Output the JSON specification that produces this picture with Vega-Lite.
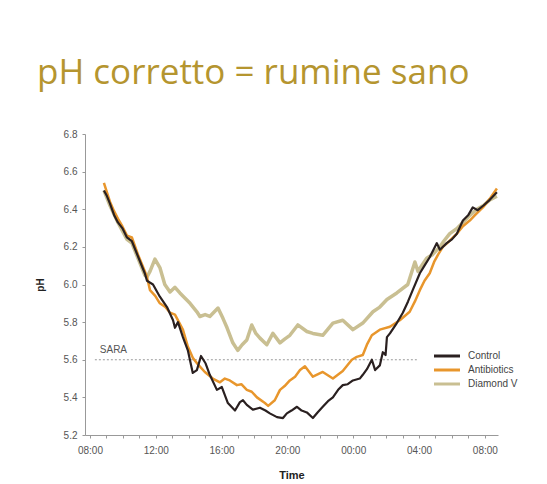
{
  "$schema": "https://vega.github.io/schema/vega-lite/v6.json",
  "autosize": "none",
  "width": 413,
  "height": 301,
  "padding": {"left": 85, "top": 134, "right": 49, "bottom": 49},
  "background": "white",
  "title": {"text": "pH corretto = rumine sano", "anchor": "start", "frame": "group", "dx": -48, "offset": 38, "fontSize": 35, "font": "Open Sans", "fontWeight": "normal", "color": "#B5952F"},
  "config": {"view": {"stroke": null}, "font": "Liberation Sans", "axis": {"labelFlush": false}},
  "data": {"values": [
      {"series": "Control", "time": "2020-01-01T08:51", "pH": 6.50},
      {"series": "Control", "time": "2020-01-01T09:02", "pH": 6.47},
      {"series": "Control", "time": "2020-01-01T09:13", "pH": 6.43},
      {"series": "Control", "time": "2020-01-01T09:28", "pH": 6.37},
      {"series": "Control", "time": "2020-01-01T09:42", "pH": 6.33},
      {"series": "Control", "time": "2020-01-01T09:58", "pH": 6.30},
      {"series": "Control", "time": "2020-01-01T10:15", "pH": 6.25},
      {"series": "Control", "time": "2020-01-01T10:33", "pH": 6.23},
      {"series": "Control", "time": "2020-01-01T10:55", "pH": 6.15},
      {"series": "Control", "time": "2020-01-01T11:20", "pH": 6.06},
      {"series": "Control", "time": "2020-01-01T11:28", "pH": 6.02},
      {"series": "Control", "time": "2020-01-01T11:50", "pH": 6.00},
      {"series": "Control", "time": "2020-01-01T12:15", "pH": 5.935},
      {"series": "Control", "time": "2020-01-01T12:41", "pH": 5.88},
      {"series": "Control", "time": "2020-01-01T13:03", "pH": 5.81},
      {"series": "Control", "time": "2020-01-01T13:10", "pH": 5.77},
      {"series": "Control", "time": "2020-01-01T13:21", "pH": 5.80},
      {"series": "Control", "time": "2020-01-01T13:39", "pH": 5.72},
      {"series": "Control", "time": "2020-01-01T13:57", "pH": 5.65},
      {"series": "Control", "time": "2020-01-01T14:15", "pH": 5.53},
      {"series": "Control", "time": "2020-01-01T14:30", "pH": 5.545},
      {"series": "Control", "time": "2020-01-01T14:45", "pH": 5.62},
      {"series": "Control", "time": "2020-01-01T15:02", "pH": 5.58},
      {"series": "Control", "time": "2020-01-01T15:17", "pH": 5.52},
      {"series": "Control", "time": "2020-01-01T15:43", "pH": 5.44},
      {"series": "Control", "time": "2020-01-01T16:01", "pH": 5.455},
      {"series": "Control", "time": "2020-01-01T16:23", "pH": 5.37},
      {"series": "Control", "time": "2020-01-01T16:49", "pH": 5.33},
      {"series": "Control", "time": "2020-01-01T17:07", "pH": 5.375},
      {"series": "Control", "time": "2020-01-01T17:18", "pH": 5.385},
      {"series": "Control", "time": "2020-01-01T17:32", "pH": 5.36},
      {"series": "Control", "time": "2020-01-01T17:54", "pH": 5.335},
      {"series": "Control", "time": "2020-01-01T18:20", "pH": 5.345},
      {"series": "Control", "time": "2020-01-01T18:40", "pH": 5.33},
      {"series": "Control", "time": "2020-01-01T18:56", "pH": 5.315},
      {"series": "Control", "time": "2020-01-01T19:22", "pH": 5.295},
      {"series": "Control", "time": "2020-01-01T19:44", "pH": 5.29},
      {"series": "Control", "time": "2020-01-01T19:58", "pH": 5.315},
      {"series": "Control", "time": "2020-01-01T20:15", "pH": 5.33},
      {"series": "Control", "time": "2020-01-01T20:35", "pH": 5.35},
      {"series": "Control", "time": "2020-01-01T20:52", "pH": 5.33},
      {"series": "Control", "time": "2020-01-01T21:11", "pH": 5.32},
      {"series": "Control", "time": "2020-01-01T21:33", "pH": 5.29},
      {"series": "Control", "time": "2020-01-01T21:50", "pH": 5.32},
      {"series": "Control", "time": "2020-01-01T22:09", "pH": 5.35},
      {"series": "Control", "time": "2020-01-01T22:28", "pH": 5.38},
      {"series": "Control", "time": "2020-01-01T22:46", "pH": 5.40},
      {"series": "Control", "time": "2020-01-01T23:05", "pH": 5.44},
      {"series": "Control", "time": "2020-01-01T23:22", "pH": 5.465},
      {"series": "Control", "time": "2020-01-01T23:40", "pH": 5.47},
      {"series": "Control", "time": "2020-01-01T23:59", "pH": 5.49},
      {"series": "Control", "time": "2020-01-02T00:24", "pH": 5.50},
      {"series": "Control", "time": "2020-01-02T00:35", "pH": 5.52},
      {"series": "Control", "time": "2020-01-02T00:50", "pH": 5.55},
      {"series": "Control", "time": "2020-01-02T01:08", "pH": 5.60},
      {"series": "Control", "time": "2020-01-02T01:20", "pH": 5.545},
      {"series": "Control", "time": "2020-01-02T01:37", "pH": 5.57},
      {"series": "Control", "time": "2020-01-02T01:48", "pH": 5.64},
      {"series": "Control", "time": "2020-01-02T01:58", "pH": 5.625},
      {"series": "Control", "time": "2020-01-02T02:03", "pH": 5.72},
      {"series": "Control", "time": "2020-01-02T02:14", "pH": 5.74},
      {"series": "Control", "time": "2020-01-02T02:39", "pH": 5.795},
      {"series": "Control", "time": "2020-01-02T03:01", "pH": 5.85},
      {"series": "Control", "time": "2020-01-02T03:20", "pH": 5.91},
      {"series": "Control", "time": "2020-01-02T03:37", "pH": 5.97},
      {"series": "Control", "time": "2020-01-02T04:03", "pH": 6.06},
      {"series": "Control", "time": "2020-01-02T04:20", "pH": 6.10},
      {"series": "Control", "time": "2020-01-02T04:39", "pH": 6.145},
      {"series": "Control", "time": "2020-01-02T05:05", "pH": 6.22},
      {"series": "Control", "time": "2020-01-02T05:16", "pH": 6.185},
      {"series": "Control", "time": "2020-01-02T05:41", "pH": 6.22},
      {"series": "Control", "time": "2020-01-02T06:00", "pH": 6.24},
      {"series": "Control", "time": "2020-01-02T06:18", "pH": 6.27},
      {"series": "Control", "time": "2020-01-02T06:40", "pH": 6.34},
      {"series": "Control", "time": "2020-01-02T07:00", "pH": 6.37},
      {"series": "Control", "time": "2020-01-02T07:16", "pH": 6.41},
      {"series": "Control", "time": "2020-01-02T07:34", "pH": 6.395},
      {"series": "Control", "time": "2020-01-02T07:55", "pH": 6.42},
      {"series": "Control", "time": "2020-01-02T08:18", "pH": 6.45},
      {"series": "Control", "time": "2020-01-02T08:44", "pH": 6.49},
      {"series": "Antibiotics", "time": "2020-01-01T08:51", "pH": 6.54},
      {"series": "Antibiotics", "time": "2020-01-01T09:02", "pH": 6.49},
      {"series": "Antibiotics", "time": "2020-01-01T09:13", "pH": 6.44},
      {"series": "Antibiotics", "time": "2020-01-01T09:28", "pH": 6.39},
      {"series": "Antibiotics", "time": "2020-01-01T09:42", "pH": 6.35},
      {"series": "Antibiotics", "time": "2020-01-01T09:58", "pH": 6.31},
      {"series": "Antibiotics", "time": "2020-01-01T10:15", "pH": 6.26},
      {"series": "Antibiotics", "time": "2020-01-01T10:33", "pH": 6.25},
      {"series": "Antibiotics", "time": "2020-01-01T10:55", "pH": 6.16},
      {"series": "Antibiotics", "time": "2020-01-01T11:20", "pH": 6.07},
      {"series": "Antibiotics", "time": "2020-01-01T11:28", "pH": 6.04},
      {"series": "Antibiotics", "time": "2020-01-01T11:39", "pH": 5.97},
      {"series": "Antibiotics", "time": "2020-01-01T11:58", "pH": 5.94},
      {"series": "Antibiotics", "time": "2020-01-01T12:15", "pH": 5.90},
      {"series": "Antibiotics", "time": "2020-01-01T12:35", "pH": 5.88},
      {"series": "Antibiotics", "time": "2020-01-01T12:52", "pH": 5.85},
      {"series": "Antibiotics", "time": "2020-01-01T13:10", "pH": 5.84},
      {"series": "Antibiotics", "time": "2020-01-01T13:39", "pH": 5.76},
      {"series": "Antibiotics", "time": "2020-01-01T13:57", "pH": 5.67},
      {"series": "Antibiotics", "time": "2020-01-01T14:15", "pH": 5.61},
      {"series": "Antibiotics", "time": "2020-01-01T14:34", "pH": 5.575},
      {"series": "Antibiotics", "time": "2020-01-01T14:59", "pH": 5.535},
      {"series": "Antibiotics", "time": "2020-01-01T15:28", "pH": 5.50},
      {"series": "Antibiotics", "time": "2020-01-01T15:54", "pH": 5.48},
      {"series": "Antibiotics", "time": "2020-01-01T16:12", "pH": 5.50},
      {"series": "Antibiotics", "time": "2020-01-01T16:30", "pH": 5.49},
      {"series": "Antibiotics", "time": "2020-01-01T16:56", "pH": 5.465},
      {"series": "Antibiotics", "time": "2020-01-01T17:12", "pH": 5.47},
      {"series": "Antibiotics", "time": "2020-01-01T17:32", "pH": 5.44},
      {"series": "Antibiotics", "time": "2020-01-01T17:50", "pH": 5.43},
      {"series": "Antibiotics", "time": "2020-01-01T18:09", "pH": 5.40},
      {"series": "Antibiotics", "time": "2020-01-01T18:38", "pH": 5.37},
      {"series": "Antibiotics", "time": "2020-01-01T18:50", "pH": 5.355},
      {"series": "Antibiotics", "time": "2020-01-01T19:14", "pH": 5.385},
      {"series": "Antibiotics", "time": "2020-01-01T19:33", "pH": 5.44},
      {"series": "Antibiotics", "time": "2020-01-01T19:50", "pH": 5.46},
      {"series": "Antibiotics", "time": "2020-01-01T20:09", "pH": 5.49},
      {"series": "Antibiotics", "time": "2020-01-01T20:28", "pH": 5.51},
      {"series": "Antibiotics", "time": "2020-01-01T20:46", "pH": 5.545},
      {"series": "Antibiotics", "time": "2020-01-01T21:04", "pH": 5.565},
      {"series": "Antibiotics", "time": "2020-01-01T21:33", "pH": 5.51},
      {"series": "Antibiotics", "time": "2020-01-01T22:09", "pH": 5.535},
      {"series": "Antibiotics", "time": "2020-01-01T22:46", "pH": 5.50},
      {"series": "Antibiotics", "time": "2020-01-01T23:22", "pH": 5.54},
      {"series": "Antibiotics", "time": "2020-01-01T23:55", "pH": 5.60},
      {"series": "Antibiotics", "time": "2020-01-02T00:13", "pH": 5.615},
      {"series": "Antibiotics", "time": "2020-01-02T00:35", "pH": 5.625},
      {"series": "Antibiotics", "time": "2020-01-02T00:50", "pH": 5.68},
      {"series": "Antibiotics", "time": "2020-01-02T01:08", "pH": 5.73},
      {"series": "Antibiotics", "time": "2020-01-02T01:37", "pH": 5.76},
      {"series": "Antibiotics", "time": "2020-01-02T02:14", "pH": 5.775},
      {"series": "Antibiotics", "time": "2020-01-02T02:50", "pH": 5.81},
      {"series": "Antibiotics", "time": "2020-01-02T03:26", "pH": 5.855},
      {"series": "Antibiotics", "time": "2020-01-02T03:45", "pH": 5.91},
      {"series": "Antibiotics", "time": "2020-01-02T04:03", "pH": 5.97},
      {"series": "Antibiotics", "time": "2020-01-02T04:20", "pH": 6.02},
      {"series": "Antibiotics", "time": "2020-01-02T04:39", "pH": 6.06},
      {"series": "Antibiotics", "time": "2020-01-02T04:55", "pH": 6.12},
      {"series": "Antibiotics", "time": "2020-01-02T05:10", "pH": 6.16},
      {"series": "Antibiotics", "time": "2020-01-02T05:27", "pH": 6.20},
      {"series": "Antibiotics", "time": "2020-01-02T05:50", "pH": 6.23},
      {"series": "Antibiotics", "time": "2020-01-02T06:18", "pH": 6.27},
      {"series": "Antibiotics", "time": "2020-01-02T06:40", "pH": 6.31},
      {"series": "Antibiotics", "time": "2020-01-02T07:05", "pH": 6.34},
      {"series": "Antibiotics", "time": "2020-01-02T07:25", "pH": 6.37},
      {"series": "Antibiotics", "time": "2020-01-02T07:53", "pH": 6.41},
      {"series": "Antibiotics", "time": "2020-01-02T08:20", "pH": 6.46},
      {"series": "Antibiotics", "time": "2020-01-02T08:44", "pH": 6.51},
      {"series": "Diamond V", "time": "2020-01-01T08:51", "pH": 6.50},
      {"series": "Diamond V", "time": "2020-01-01T09:13", "pH": 6.42},
      {"series": "Diamond V", "time": "2020-01-01T09:42", "pH": 6.33},
      {"series": "Diamond V", "time": "2020-01-01T10:15", "pH": 6.24},
      {"series": "Diamond V", "time": "2020-01-01T10:33", "pH": 6.22},
      {"series": "Diamond V", "time": "2020-01-01T10:55", "pH": 6.14},
      {"series": "Diamond V", "time": "2020-01-01T11:20", "pH": 6.05},
      {"series": "Diamond V", "time": "2020-01-01T11:28", "pH": 6.04},
      {"series": "Diamond V", "time": "2020-01-01T11:39", "pH": 6.07},
      {"series": "Diamond V", "time": "2020-01-01T11:57", "pH": 6.135},
      {"series": "Diamond V", "time": "2020-01-01T12:15", "pH": 6.09},
      {"series": "Diamond V", "time": "2020-01-01T12:33", "pH": 6.00},
      {"series": "Diamond V", "time": "2020-01-01T12:52", "pH": 5.96},
      {"series": "Diamond V", "time": "2020-01-01T13:10", "pH": 5.985},
      {"series": "Diamond V", "time": "2020-01-01T13:28", "pH": 5.955},
      {"series": "Diamond V", "time": "2020-01-01T13:45", "pH": 5.93},
      {"series": "Diamond V", "time": "2020-01-01T14:05", "pH": 5.90},
      {"series": "Diamond V", "time": "2020-01-01T14:30", "pH": 5.855},
      {"series": "Diamond V", "time": "2020-01-01T14:41", "pH": 5.83},
      {"series": "Diamond V", "time": "2020-01-01T15:00", "pH": 5.84},
      {"series": "Diamond V", "time": "2020-01-01T15:17", "pH": 5.83},
      {"series": "Diamond V", "time": "2020-01-01T15:47", "pH": 5.875},
      {"series": "Diamond V", "time": "2020-01-01T16:05", "pH": 5.82},
      {"series": "Diamond V", "time": "2020-01-01T16:20", "pH": 5.77},
      {"series": "Diamond V", "time": "2020-01-01T16:41", "pH": 5.69},
      {"series": "Diamond V", "time": "2020-01-01T16:59", "pH": 5.65},
      {"series": "Diamond V", "time": "2020-01-01T17:15", "pH": 5.68},
      {"series": "Diamond V", "time": "2020-01-01T17:32", "pH": 5.705},
      {"series": "Diamond V", "time": "2020-01-01T17:50", "pH": 5.785},
      {"series": "Diamond V", "time": "2020-01-01T18:05", "pH": 5.74},
      {"series": "Diamond V", "time": "2020-01-01T18:20", "pH": 5.715},
      {"series": "Diamond V", "time": "2020-01-01T18:45", "pH": 5.68},
      {"series": "Diamond V", "time": "2020-01-01T19:07", "pH": 5.74},
      {"series": "Diamond V", "time": "2020-01-01T19:33", "pH": 5.69},
      {"series": "Diamond V", "time": "2020-01-01T19:50", "pH": 5.71},
      {"series": "Diamond V", "time": "2020-01-01T20:09", "pH": 5.73},
      {"series": "Diamond V", "time": "2020-01-01T20:38", "pH": 5.785},
      {"series": "Diamond V", "time": "2020-01-01T21:11", "pH": 5.75},
      {"series": "Diamond V", "time": "2020-01-01T21:33", "pH": 5.74},
      {"series": "Diamond V", "time": "2020-01-01T22:09", "pH": 5.73},
      {"series": "Diamond V", "time": "2020-01-01T22:46", "pH": 5.795},
      {"series": "Diamond V", "time": "2020-01-01T23:22", "pH": 5.81},
      {"series": "Diamond V", "time": "2020-01-01T23:59", "pH": 5.76},
      {"series": "Diamond V", "time": "2020-01-02T00:35", "pH": 5.795},
      {"series": "Diamond V", "time": "2020-01-02T01:12", "pH": 5.855},
      {"series": "Diamond V", "time": "2020-01-02T01:37", "pH": 5.88},
      {"series": "Diamond V", "time": "2020-01-02T02:03", "pH": 5.92},
      {"series": "Diamond V", "time": "2020-01-02T02:39", "pH": 5.955},
      {"series": "Diamond V", "time": "2020-01-02T03:19", "pH": 6.00},
      {"series": "Diamond V", "time": "2020-01-02T03:45", "pH": 6.12},
      {"series": "Diamond V", "time": "2020-01-02T03:56", "pH": 6.07},
      {"series": "Diamond V", "time": "2020-01-02T04:28", "pH": 6.14},
      {"series": "Diamond V", "time": "2020-01-02T04:50", "pH": 6.16},
      {"series": "Diamond V", "time": "2020-01-02T05:16", "pH": 6.20},
      {"series": "Diamond V", "time": "2020-01-02T05:30", "pH": 6.23},
      {"series": "Diamond V", "time": "2020-01-02T05:52", "pH": 6.27},
      {"series": "Diamond V", "time": "2020-01-02T06:20", "pH": 6.30},
      {"series": "Diamond V", "time": "2020-01-02T06:40", "pH": 6.33},
      {"series": "Diamond V", "time": "2020-01-02T07:00", "pH": 6.36},
      {"series": "Diamond V", "time": "2020-01-02T07:31", "pH": 6.40},
      {"series": "Diamond V", "time": "2020-01-02T07:55", "pH": 6.42},
      {"series": "Diamond V", "time": "2020-01-02T08:18", "pH": 6.45},
      {"series": "Diamond V", "time": "2020-01-02T08:44", "pH": 6.47}
  ]},
  "layer": [
    {
      "data": {"values": [{"label": "SARA"}]},
      "mark": {"type": "rule", "strokeDash": [2, 2], "color": "#9a9a9a", "strokeWidth": 1},
      "encoding": {
        "x": {"datum": {"year": 2020, "month": 1, "date": 1, "hours": 8, "minutes": 18}, "type": "temporal"},
        "x2": {"datum": {"year": 2020, "month": 1, "date": 2, "hours": 3, "minutes": 52}},
        "y": {
          "datum": 5.6, "type": "quantitative",
          "scale": {"domain": [5.2, 6.8], "zero": false, "nice": false},
          "axis": {
            "title": "pH", "titleFontSize": 10, "titleFontWeight": "bold", "titleColor": "#222", "titlePadding": 18,
            "values": [5.2, 5.4, 5.6, 5.8, 6.0, 6.2, 6.4, 6.6, 6.8], "tickCount": 20, "format": ".1f",
            "labelOverlap": false,
            "labelFontSize": 10, "labelColor": "#555", "labelPadding": 5,
            "tickSize": 3, "tickColor": "#999", "domainColor": "#999", "grid": false
          }
        }
      }
    },
    {
      "data": {"values": [{"label": "SARA"}]},
      "mark": {"type": "text", "align": "left", "baseline": "middle", "fontSize": 10, "color": "#555"},
      "encoding": {
        "x": {"datum": {"year": 2020, "month": 1, "date": 1, "hours": 8, "minutes": 36}, "type": "temporal"},
        "y": {"datum": 5.65, "type": "quantitative"},
        "text": {"field": "label", "type": "nominal"}
      }
    },
    {
      "mark": {"type": "line", "strokeWidth": 3.5, "strokeJoin": "round"},
      "transform": [{"filter": "datum.series === 'Diamond V'"}],
      "encoding": {
        "x": {
          "field": "time", "type": "temporal",
          "scale": {"domain": [{"year": 2020, "month": 1, "date": 1, "hours": 7, "minutes": 42}, {"year": 2020, "month": 1, "date": 2, "hours": 8, "minutes": 48}]},
          "axis": {
            "title": "Time", "titleFontSize": 11, "titleFontWeight": "bold", "titleColor": "#222", "titlePadding": 14,
            "values": [
              {"year": 2020, "month": 1, "date": 1, "hours": 8}, {"year": 2020, "month": 1, "date": 1, "hours": 9},
              {"year": 2020, "month": 1, "date": 1, "hours": 10}, {"year": 2020, "month": 1, "date": 1, "hours": 11},
              {"year": 2020, "month": 1, "date": 1, "hours": 12}, {"year": 2020, "month": 1, "date": 1, "hours": 13},
              {"year": 2020, "month": 1, "date": 1, "hours": 14}, {"year": 2020, "month": 1, "date": 1, "hours": 15},
              {"year": 2020, "month": 1, "date": 1, "hours": 16}, {"year": 2020, "month": 1, "date": 1, "hours": 17},
              {"year": 2020, "month": 1, "date": 1, "hours": 18}, {"year": 2020, "month": 1, "date": 1, "hours": 19},
              {"year": 2020, "month": 1, "date": 1, "hours": 20}, {"year": 2020, "month": 1, "date": 1, "hours": 21},
              {"year": 2020, "month": 1, "date": 1, "hours": 22}, {"year": 2020, "month": 1, "date": 1, "hours": 23},
              {"year": 2020, "month": 1, "date": 2, "hours": 0}, {"year": 2020, "month": 1, "date": 2, "hours": 1},
              {"year": 2020, "month": 1, "date": 2, "hours": 2}, {"year": 2020, "month": 1, "date": 2, "hours": 3},
              {"year": 2020, "month": 1, "date": 2, "hours": 4}, {"year": 2020, "month": 1, "date": 2, "hours": 5},
              {"year": 2020, "month": 1, "date": 2, "hours": 6}, {"year": 2020, "month": 1, "date": 2, "hours": 7},
              {"year": 2020, "month": 1, "date": 2, "hours": 8}
            ],
            "tickCount": 40,
            "labelExpr": "hours(datum.value) % 4 == 0 ? timeFormat(datum.value, '%H:%M') : ''",
            "labelOverlap": false, "labelFlush": false,
            "labelFontSize": 10, "labelColor": "#555", "labelPadding": 7,
            "tickSize": 3, "tickColor": "#999", "domainColor": "#999", "grid": false
          }
        },
        "y": {"field": "pH", "type": "quantitative"},
        "color": {
          "field": "series", "type": "nominal",
          "scale": {"domain": ["Control", "Antibiotics", "Diamond V"], "range": ["#2A2020", "#E8962C", "#C9BF92"]},
          "legend": {
            "title": null, "orient": "none", "legendX": 354, "legendY": 214,
            "symbolType": "M-2,0H2", "symbolSize": 169, "symbolStrokeWidth": 3, "symbolFillColor": "transparent",
            "labelFontSize": 10, "labelColor": "#444", "labelOffset": 13, "rowPadding": -1
          }
        }
      }
    },
    {
      "mark": {"type": "line", "strokeWidth": 2.5, "strokeJoin": "round"},
      "transform": [{"filter": "datum.series === 'Antibiotics'"}],
      "encoding": {
        "x": {"field": "time", "type": "temporal"},
        "y": {"field": "pH", "type": "quantitative"},
        "color": {"field": "series", "type": "nominal"}
      }
    },
    {
      "mark": {"type": "line", "strokeWidth": 2.2, "strokeJoin": "round"},
      "transform": [{"filter": "datum.series === 'Control'"}],
      "encoding": {
        "x": {"field": "time", "type": "temporal"},
        "y": {"field": "pH", "type": "quantitative"},
        "color": {"field": "series", "type": "nominal"}
      }
    }
  ]
}
